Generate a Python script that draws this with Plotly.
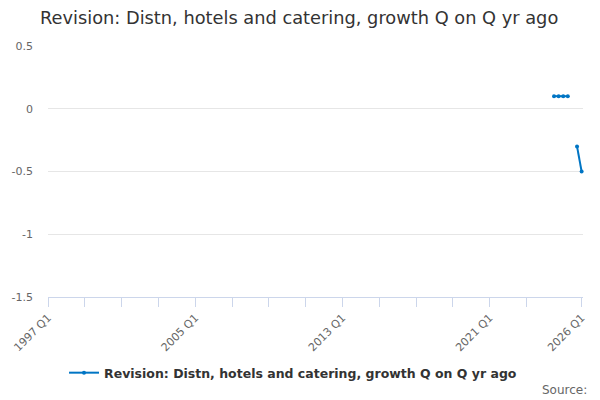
"""Revision: Distn, hotels and catering, growth Q on Q yr ago (line chart)."""
import plotly.graph_objects as go

# quarters 1997 Q1 .. 2026 Q1
quarters = [f'{y} Q{q}' for y in range(1997, 2027) for q in range(1, 5)]
quarters = quarters[:quarters.index('2026 Q1') + 1]

# only the last few quarters carry a value
known_values = {
    '2024 Q3': 0.1,
    '2024 Q4': 0.1,
    '2025 Q1': 0.1,
    '2025 Q2': 0.1,
    '2025 Q4': -0.3,
    '2026 Q1': -0.5,
}
values = [known_values.get(q) for q in quarters]

tick_quarters = [f'{y} Q1' for y in range(1997, 2025, 2)] + ['2026 Q1']
labelled_quarters = ['1997 Q1', '2005 Q1', '2013 Q1', '2021 Q1', '2026 Q1']
tick_labels = [q if q in labelled_quarters else '' for q in tick_quarters]

y_ticks = [-1.5, -1, -0.5, 0, 0.5]
y_tick_labels = ['-1.5', '-1', '-0.5', '0', '0.5']

series_name = 'Revision: Distn, hotels and catering, growth Q on Q yr ago'

# the page body adds an 8px margin, so the figure is drawn 8px smaller
W, H = 592, 392

fig = go.Figure()
fig.add_trace(go.Scatter(x=quarters, y=values, name=series_name,
                         mode='lines+markers',
                         line=dict(color='#0075c4', width=2),
                         marker=dict(color='#0075c4', size=4),
                         connectgaps=False, cliponaxis=False))

fig.update_layout(
    width=W, height=H,
    margin=dict(l=40, r=17, t=38, b=103),
    paper_bgcolor='white', plot_bgcolor='white',
    font=dict(family='DejaVu Sans', color='#666666', size=11),
    title=dict(text=series_name, x=32 / W, xanchor='left', y=1 - 10 / H, yanchor='middle',
               font=dict(family='DejaVu Sans', size=17.8, color='#333333')),
    showlegend=True,
    legend=dict(orientation='h', x=0.458, xanchor='center',
                y=-0.303, yanchor='middle', itemwidth=30,
                font=dict(family='DejaVu Sans', size=12.5, color='#333333', weight='bold')),
)

fig.update_xaxes(type='category', categoryorder='array', categoryarray=quarters,
                 range=[0, len(quarters) - 0.7], automargin=False,
                 tickmode='array', tickvals=tick_quarters, ticktext=tick_labels,
                 tickangle=-45, ticks='outside', ticklen=9, tickcolor='#ccd6eb',
                 showline=True, linecolor='#ccd6eb', linewidth=1,
                 showgrid=False, zeroline=False,
                 tickfont=dict(size=11, color='#666666'))

fig.update_yaxes(range=[-1.5, 0.5], tickmode='array', tickvals=y_ticks, ticktext=y_tick_labels,
                 showgrid=True, gridcolor='#e6e6e6', gridwidth=1, zeroline=False,
                 ticks='', ticklabelstandoff=14, automargin=False,
                 tickfont=dict(size=11, color='#666666'))

fig.add_annotation(text='Source:', xref='paper', yref='paper', x=1.011, y=-0.37,
                   xanchor='right', yanchor='middle', showarrow=False,
                   font=dict(family='DejaVu Sans', size=12, color='#666666'))

fig.write_html('out.html')
